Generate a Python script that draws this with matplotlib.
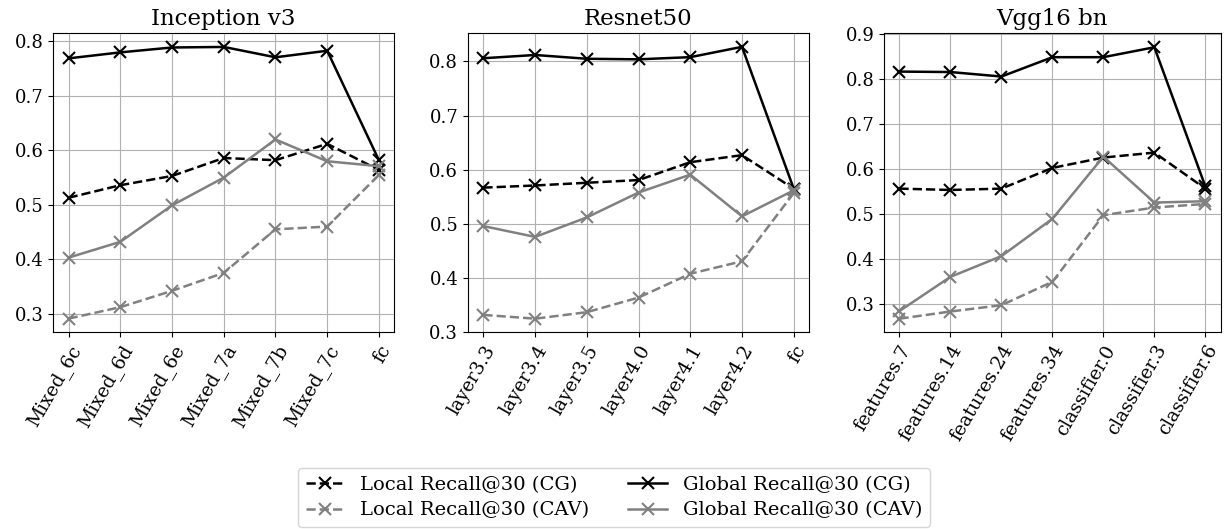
import matplotlib
matplotlib.use('Agg')
import matplotlib.pyplot as plt

plt.rcParams['font.family'] = 'DejaVu Serif'

# layer names per model
inception_layers = ['Mixed_6c', 'Mixed_6d', 'Mixed_6e', 'Mixed_7a', 'Mixed_7b', 'Mixed_7c', 'fc']
resnet_layers = ['layer3.3', 'layer3.4', 'layer3.5', 'layer4.0', 'layer4.1', 'layer4.2', 'fc']
vgg_layers = ['features.7', 'features.14', 'features.24', 'features.34', 'classifier.0', 'classifier.3', 'classifier.6']

# Inception v3
inc_local_cg = [0.513, 0.536, 0.553, 0.586, 0.582, 0.612, 0.564]
inc_global_cg = [0.769, 0.780, 0.789, 0.790, 0.771, 0.783, 0.582]
inc_local_cav = [0.291, 0.312, 0.342, 0.375, 0.455, 0.460, 0.555]
inc_global_cav = [0.403, 0.432, 0.499, 0.550, 0.620, 0.580, 0.571]

# Resnet50
res_local_cg = [0.567, 0.571, 0.576, 0.581, 0.614, 0.627, 0.565]
res_global_cg = [0.806, 0.812, 0.805, 0.804, 0.808, 0.827, 0.565]
res_local_cav = [0.332, 0.325, 0.337, 0.364, 0.408, 0.431, 0.557]
res_global_cav = [0.496, 0.476, 0.512, 0.558, 0.591, 0.514, 0.562]

# Vgg16 bn
vgg_local_cg = [0.557, 0.554, 0.557, 0.603, 0.626, 0.637, 0.557]
vgg_global_cg = [0.817, 0.816, 0.806, 0.849, 0.849, 0.871, 0.562]
vgg_local_cav = [0.268, 0.284, 0.298, 0.350, 0.498, 0.515, 0.523]
vgg_global_cav = [0.285, 0.361, 0.407, 0.490, 0.628, 0.526, 0.529]

models = [
    ('Inception v3', inception_layers, inc_local_cg, inc_global_cg, inc_local_cav, inc_global_cav, (0.266, 0.815)),
    ('Resnet50', resnet_layers, res_local_cg, res_global_cg, res_local_cav, res_global_cav, (0.3, 0.852)),
    ('Vgg16 bn', vgg_layers, vgg_local_cg, vgg_global_cg, vgg_local_cav, vgg_global_cav, (0.238, 0.902)),
]

fig = plt.figure(figsize=(12.28, 5.29), dpi=100)
positions = [
    [0.0432, 0.372, 0.278, 0.565],
    [0.381, 0.372, 0.278, 0.565],
    [0.720, 0.372, 0.274, 0.565],
]

style = dict(marker='x', markersize=9, markeredgewidth=1.5, linewidth=1.8)

for pos, (title, layers, lcg, gcg, lcav, gcav, ylim) in zip(positions, models):
    ax = fig.add_axes(pos)
    x = range(len(layers))
    ax.plot(x, lcg, color='black', linestyle='--', label='Local Recall@30 (CG)', **style)
    ax.plot(x, lcav, color='gray', linestyle='--', label='Local Recall@30 (CAV)', **style)
    ax.plot(x, gcg, color='black', linestyle='-', label='Global Recall@30 (CG)', **style)
    ax.plot(x, gcav, color='gray', linestyle='-', label='Global Recall@30 (CAV)', **style)
    ax.set_xticks(list(x))
    ax.set_xticklabels(layers, rotation=60, ha='right', rotation_mode='anchor', fontsize=13.5)
    ax.tick_params(axis='y', labelsize=13)
    ax.set_ylim(*ylim)
    ax.set_xlim(-0.3, 6.3)
    ax.set_title(title, fontsize=16.5)
    ax.grid(True, color='#b0b0b0')

handles, labels = ax.get_legend_handles_labels()
fig.legend(handles, labels, loc='upper center', bbox_to_anchor=(0.5, 0.134), ncol=2,
           fontsize=14, labelspacing=0.4)

plt.savefig('out.png')
